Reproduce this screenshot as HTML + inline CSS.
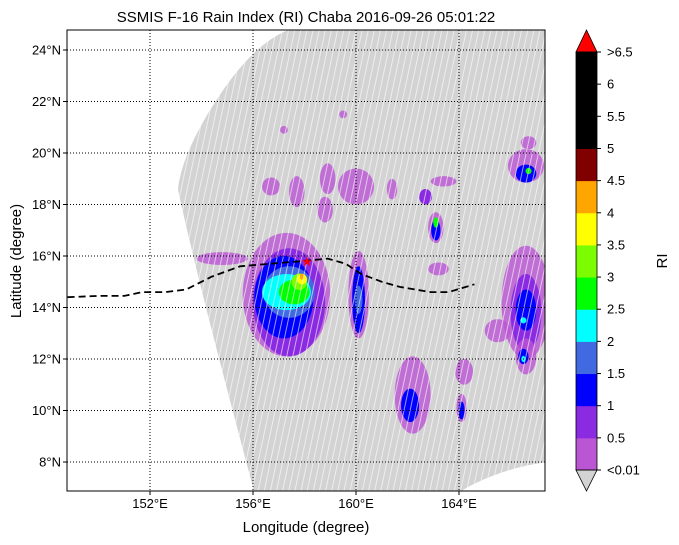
<!DOCTYPE html>
<html><head><meta charset="utf-8"><style>
body{margin:0;background:#fff;}
svg{display:block;font-family:"Liberation Sans",sans-serif;}
</style></head><body>
<svg id="chart" width="679" height="545" viewBox="0 0 679 545">
<defs>
<clipPath id="plotclip"><rect x="67" y="30" width="478" height="461"/></clipPath>
<pattern id="stripes" width="6" height="40" patternUnits="userSpaceOnUse" patternTransform="rotate(12)">
<rect x="0" y="0" width="1" height="40" fill="#ffffff" opacity="0.6"/>
</pattern>
</defs>
<rect x="0" y="0" width="679" height="545" fill="#fff"/>
<text x="306" y="22" text-anchor="middle" font-size="15">SSMIS F-16 Rain Index (RI) Chaba 2016-09-26 05:01:22</text>
<g clip-path="url(#plotclip)">
<path d="M293,28 C260,40 235,70 210,110 C195,135 180,165 178,190 C200,290 230,400 255,495 L455,495 C480,478 515,466 548,462 L548,28 Z" fill="#d3d3d3"/>
<g id="rain"></g>
<path d="M293,28 C260,40 235,70 210,110 C195,135 180,165 178,190 C200,290 230,400 255,495 L455,495 C480,478 515,466 548,462 L548,28 Z" fill="url(#stripes)"/>
<g id="grid"></g>
<path id="track" fill="none" stroke="#000" stroke-width="1.8" stroke-dasharray="7,4"/>
<text id="star" font-size="13" fill="#ff0000" text-anchor="middle">★</text>
</g>
<rect x="67" y="30" width="478" height="461" fill="none" stroke="#000" stroke-width="1"/>
<g id="xaxis"></g><g id="yaxis"></g>
<text x="306" y="532" text-anchor="middle" font-size="15">Longitude (degree)</text>
<text transform="translate(21,261) rotate(-90)" text-anchor="middle" font-size="15">Latitude (degree)</text>
<g id="cbar"></g>
<text transform="translate(667,261) rotate(-90)" text-anchor="middle" font-size="15">RI</text>
</svg>
<script>
const lonTicks=[152,156,160,164];
const latTicks=[8,10,12,14,16,18,20,22,24];
const cbBounds=[0.01,0.5,1,1.5,2,2.5,3,3.5,4,4.5,5,5.5,6,6.5];
const cbLabels=["<0.01","0.5","1","1.5","2","2.5","3","3.5","4","4.5","5","5.5","6",">6.5"];
const cbColors=["#ba55d3","#8a2be2","#0000ff","#4169e1","#00ffff","#00ff00","#7cfc00","#ffff00","#ffa500","#800000","#000000","#000000","#000000"];
// rain features: center lon, lat, half-width (deg lon), half-height (deg lat), RI value
const rainLon=[157.3,157.4,157.2,157.4,157.3,157.6,157.8,157.9,157.9,154.8, 160.1,160.1,160.1, 163.1,163.1,163.1, 166.6,166.6,166.7, 166.6,166.6,166.6,166.5, 166.6,166.5,166.5, 162.2,162.1, 164.1,164.1,164.2, 160.0,158.9,156.7,163.4,159.5,157.2,162.7,166.7,165.5,163.2,157.7,158.8,161.4];
const rainLat=[14.5,14.2,14.4,14.6,14.6,14.6,15.0,15.1,15.2,15.9, 14.5,14.3,14.3, 17.1,17.0,17.3, 19.5,19.2,19.3, 14.2,13.8,13.9,13.5, 12.1,12.1,12.0, 10.6,10.2, 10.1,10.0,11.5, 18.7,19.0,18.7,18.9,21.5,20.9,18.3,20.4,13.1,15.5,18.5,17.8,18.6];
const rainRx=[1.7,1.4,1.15,1.0,0.95,0.6,0.3,0.2,0.08,1.0, 0.4,0.25,0.15, 0.3,0.18,0.1, 0.7,0.4,0.12, 0.95,0.6,0.4,0.12, 0.4,0.2,0.08, 0.7,0.35, 0.2,0.12,0.35, 0.7,0.3,0.35,0.5,0.15,0.15,0.25,0.3,0.5,0.4,0.3,0.3,0.2];
const rainRy=[2.4,2.1,1.6,1.0,0.7,0.48,0.32,0.2,0.12,0.25, 1.7,1.3,0.55, 0.6,0.4,0.2, 0.65,0.35,0.12, 2.2,1.5,0.8,0.12, 0.7,0.3,0.12, 1.5,0.65, 0.55,0.35,0.5, 0.7,0.6,0.35,0.2,0.15,0.15,0.3,0.25,0.45,0.25,0.6,0.5,0.4];
const rainVal=[0.3,0.7,1.2,1.7,2.2,2.7,3.2,3.7,4.2,0.3, 0.3,1.2,1.7, 0.3,1.2,2.7, 0.3,1.2,2.7, 0.3,0.7,1.2,2.2, 0.3,1.2,2.2, 0.3,1.2, 0.3,1.2,0.3, 0.3,0.3,0.3,0.3,0.3,0.3,0.7,0.3,0.3,0.3,0.3,0.3,0.3];
const trackLon=[148.8,150.0,151.0,151.7,152.6,153.4,154.4,155.5,156.7,157.9,158.9,159.6,160.2,161.0,161.7,162.9,163.6,164.6];
const trackLat=[14.4,14.45,14.45,14.6,14.6,14.7,15.2,15.6,15.7,15.8,15.9,15.7,15.3,15.0,14.8,14.6,14.6,14.9];
const starLon=[158.1], starLat=[15.8];

const NS='http://www.w3.org/2000/svg';
const X=lon=>150+(lon-152)*25.75;
const Y=lat=>50+(24-lat)*25.75;
function mk(t,a,p){const e=document.createElementNS(NS,t);for(const k in a)e.setAttribute(k,a[k]);p.appendChild(e);return e;}
function colorFor(v){if(v<cbBounds[0])return '#d3d3d3';for(let i=0;i<cbBounds.length-1;i++){if(v<cbBounds[i+1])return cbColors[i];}return '#ff0000';}

const rain=document.getElementById('rain');
for(let i=0;i<rainLon.length;i++){
 const e=mk('ellipse',{cx:X(rainLon[i]),cy:Y(rainLat[i]),rx:rainRx[i]*25.75,ry:rainRy[i]*25.75,fill:colorFor(rainVal[i]),opacity:rainVal[i]<0.5?0.8:1},rain);
 
 
}
const grid=document.getElementById('grid');
lonTicks.forEach(l=>{const e=mk('line',{x1:X(l),x2:X(l),y1:30,y2:491,stroke:'#000','stroke-width':1,'stroke-dasharray':'1,2'},grid);
 });
latTicks.forEach(l=>{const e=mk('line',{x1:67,x2:545,y1:Y(l),y2:Y(l),stroke:'#000','stroke-width':1,'stroke-dasharray':'1,2'},grid);
 });
let d='';trackLon.forEach((l,i)=>{d+=(i?'L':'M')+X(l).toFixed(1)+','+Y(trackLat[i]).toFixed(1);});
document.getElementById('track').setAttribute('d',d);
const st=document.getElementById('star');st.setAttribute('x',X(starLon[0]));st.setAttribute('y',Y(starLat[0])+5);

const xa=document.getElementById('xaxis');
lonTicks.forEach(l=>{mk('line',{x1:X(l),x2:X(l),y1:491,y2:495,stroke:'#000'},xa);
 const t=mk('text',{x:X(l),y:508,'text-anchor':'middle','font-size':13},xa);t.textContent=l+'°E';
 });
const ya=document.getElementById('yaxis');
latTicks.forEach(l=>{mk('line',{x1:63,x2:67,y1:Y(l),y2:Y(l),stroke:'#000'},ya);
 const t=mk('text',{x:61,y:Y(l)+4.5,'text-anchor':'end','font-size':13},ya);t.textContent=l+'°N';
 });

const cb=document.getElementById('cbar');
const cbTop=52,cbBot=470,cbX=576,cbW=21,seg=(cbBot-cbTop)/cbColors.length;
cbColors.forEach((c,i)=>{const e=mk('rect',{x:cbX,y:cbBot-(i+1)*seg,width:cbW,height:seg+0.5,fill:c},cb);
 });
mk('polygon',{points:`${cbX},${cbTop} ${cbX+cbW},${cbTop} ${cbX+cbW/2},30`,fill:'#ff0000',stroke:'#000','stroke-width':0.8},cb);
mk('polygon',{points:`${cbX},${cbBot} ${cbX+cbW},${cbBot} ${cbX+cbW/2},491`,fill:'#d3d3d3',stroke:'#000','stroke-width':0.8},cb);
mk('rect',{x:cbX,y:cbTop,width:cbW,height:cbBot-cbTop,fill:'none',stroke:'#000','stroke-width':0.8},cb);
cbLabels.forEach((s,i)=>{const y=cbBot-i*seg;mk('line',{x1:cbX+cbW,x2:cbX+cbW+4,y1:y,y2:y,stroke:'#000'},cb);
 const t=mk('text',{x:607,y:y+4.5,'font-size':13},cb);t.textContent=s;
 });
</script>
</body></html>
